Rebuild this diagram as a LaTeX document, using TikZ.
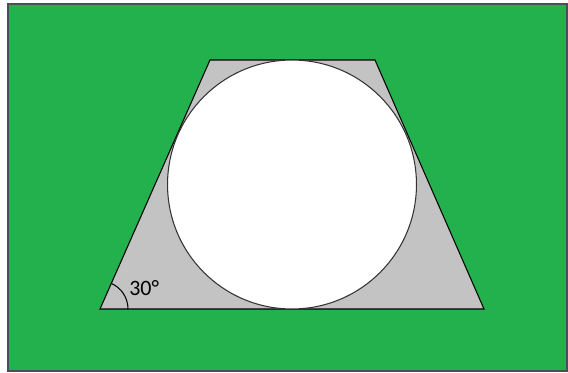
\documentclass[tikz,border=0pt]{standalone}
\usepackage{fontspec}
\setmainfont{Carlito}
\usetikzlibrary{calc}
\definecolor{BgGreen}{RGB}{34,177,76}
\definecolor{TrapGray}{RGB}{195,195,195}
\definecolor{EdgeGray}{RGB}{70,80,90}
\tikzset{
	bg/.style={fill=BgGreen, draw=EdgeGray, line width=0.8pt},
	trap/.style={fill=TrapGray, draw=black, line width=0.6pt},
	hole/.style={fill=white, draw=black!80, line width=0.6pt},
	angarc/.style={draw=black, line width=0.6pt}
}
\begin{document}
\begin{tikzpicture}[x=0.02cm, y=-0.02cm]
	\useasboundingbox (0,0) rectangle (568,372);
	\draw[bg] (8,4) rectangle (567,371);
	% trapezoid corners
	\coordinate (bl) at (100,309);
	\coordinate (br) at (484,309);
	\coordinate (tr) at (375,60);
	\coordinate (tl) at (210,60);
	\draw[trap] (bl) -- (br) -- (tr) -- (tl) -- cycle;
	% inscribed circle
	\coordinate (c) at (292,184.5);
	\draw[hole] (c) circle[radius=2.49cm];
	% angle mark
	\draw[angarc] ($(bl)+(28,0)$) arc[start angle=0, end angle=66, radius=0.56cm];
	\node[font=\fontsize{12.5}{14}\selectfont, anchor=west, inner sep=0pt] (ang) at (129,288) {30°};
\end{tikzpicture}
\end{document}
